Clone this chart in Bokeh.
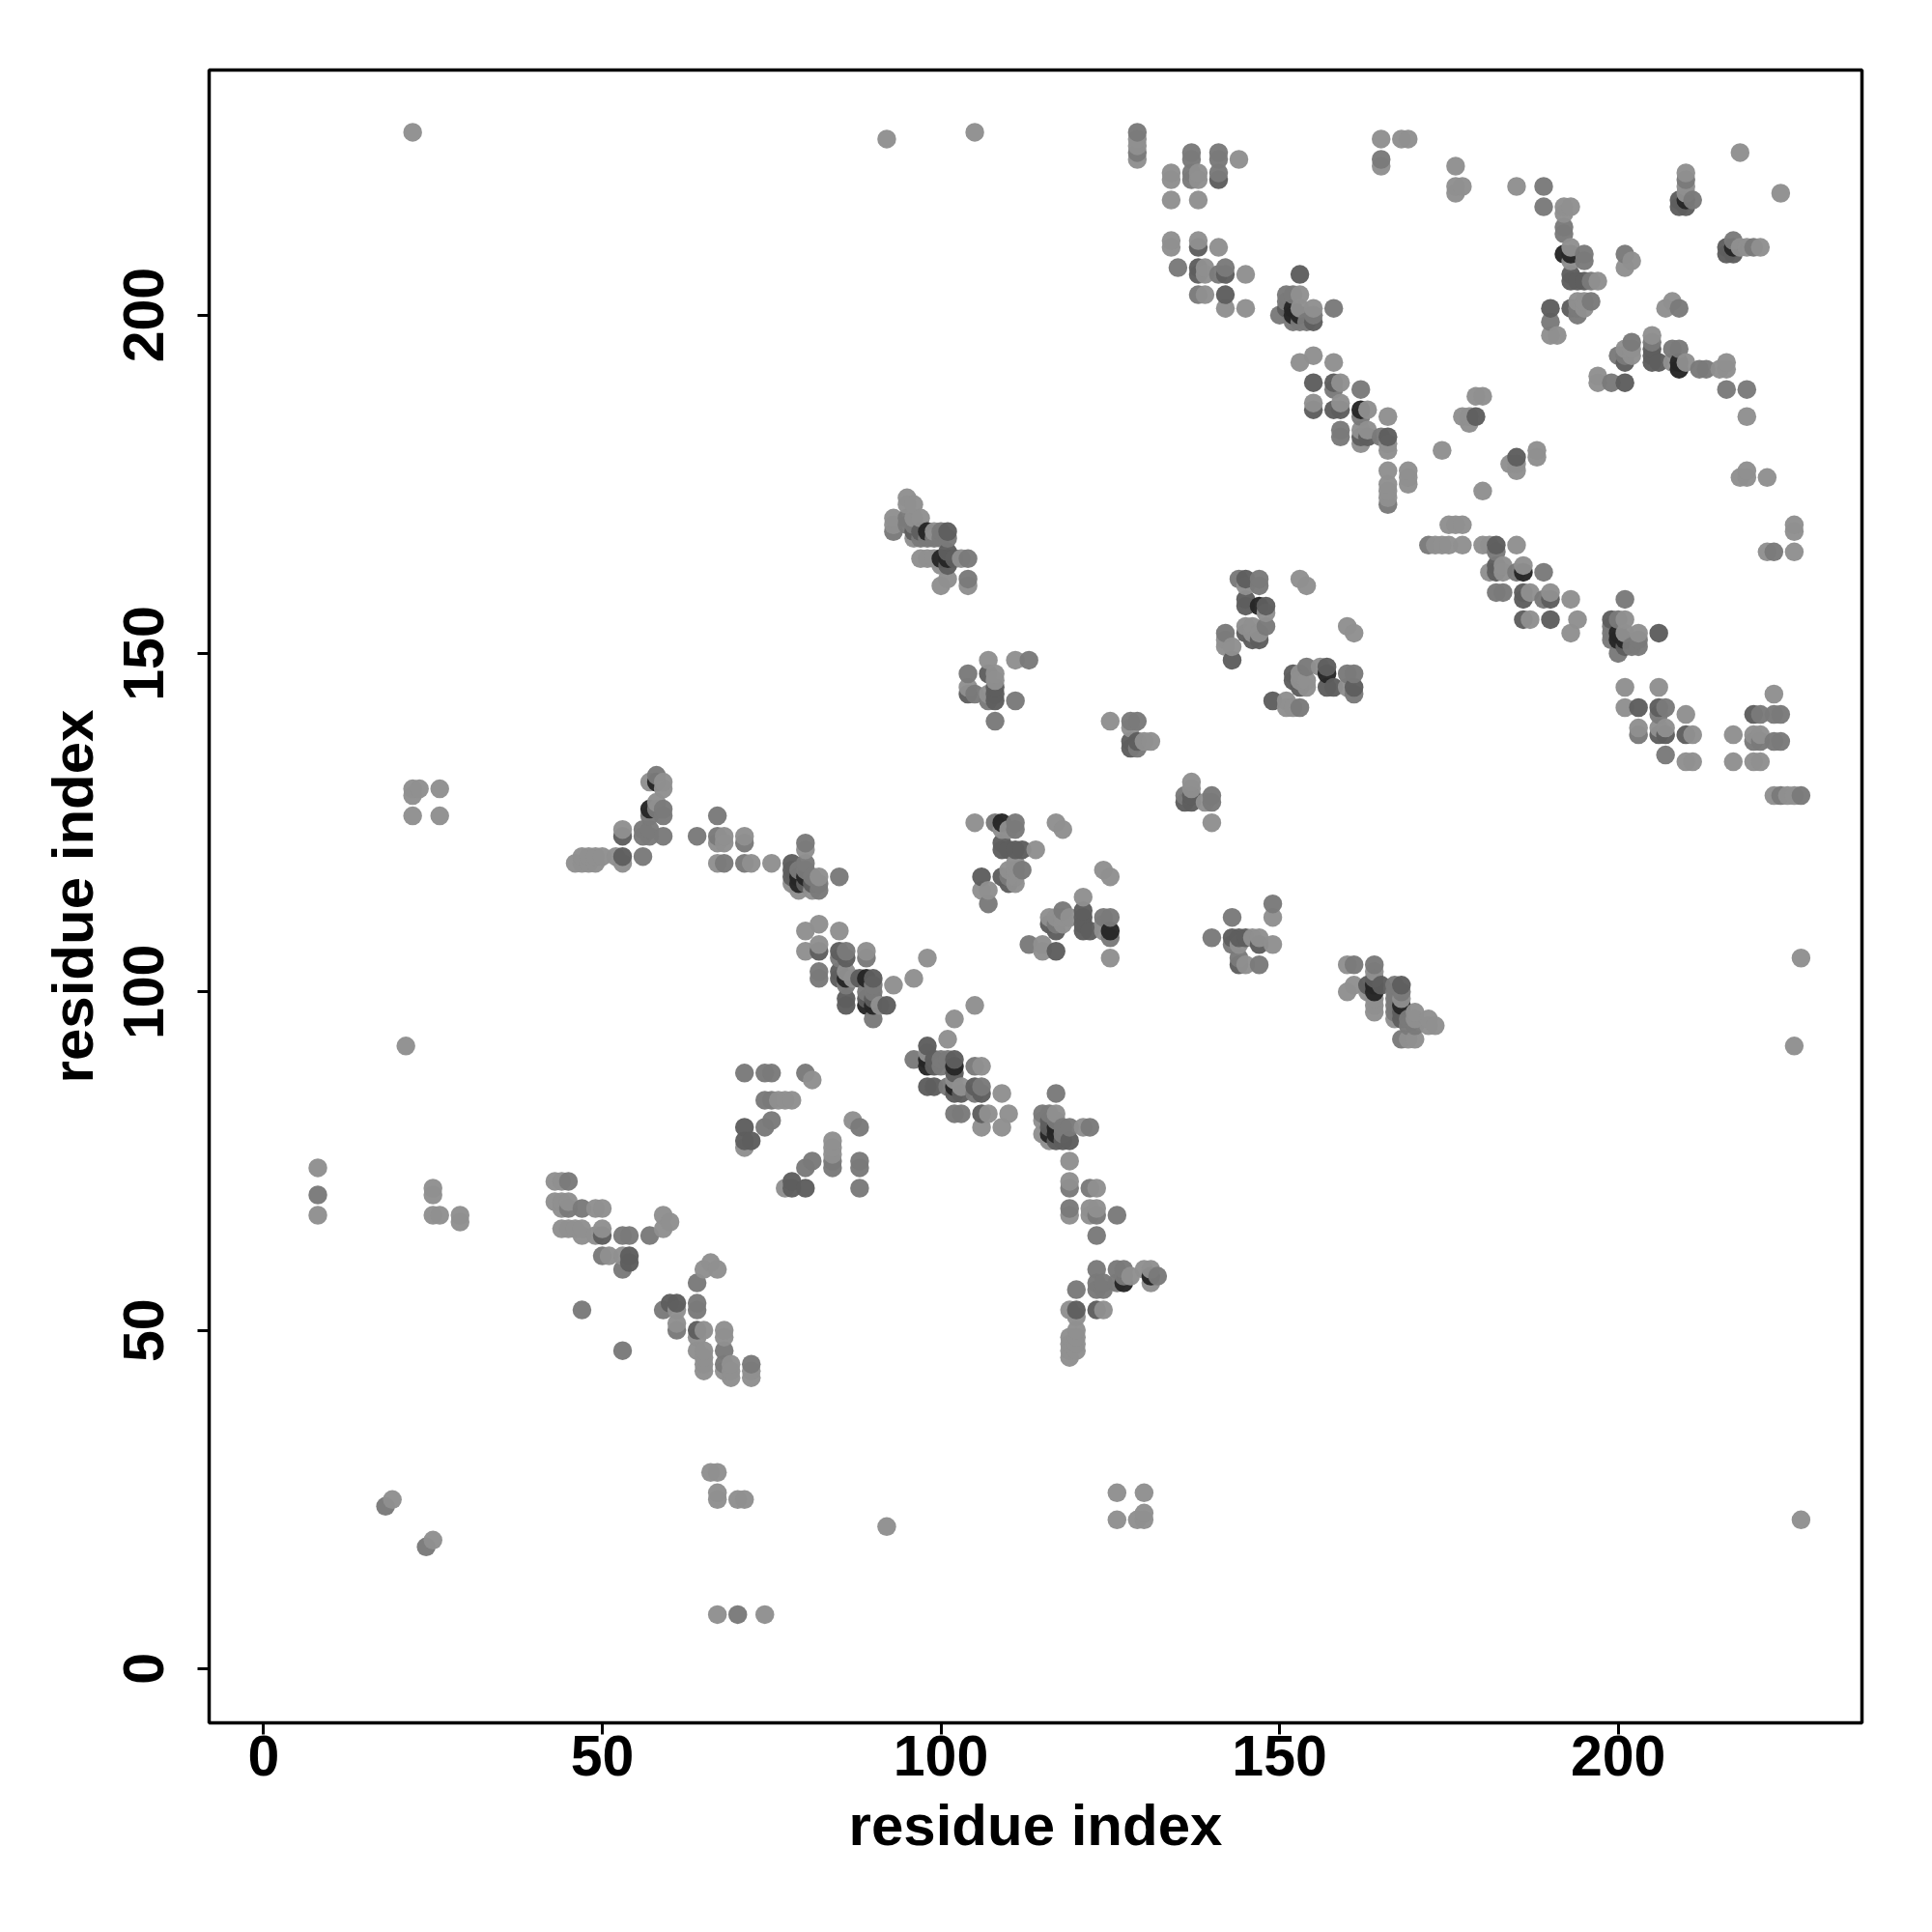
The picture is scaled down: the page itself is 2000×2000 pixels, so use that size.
from bokeh.plotting import figure
from bokeh.models import ColumnDataSource, FixedTicker, Range1d
from bokeh.embed import file_html
from bokeh.resources import INLINE

# residue contact pairs (i < j); the map is symmetric. Grouped by contact strength.
weak = [
    (8,67),(8,74),(19,25),(21,92),(22,126),(22,129),(22,130),(23,130),(26,126),(26,130),(22,227),
    (25,67),(25,70),(25,71),(26,67),(29,66),(29,67),(92,226),(105,227),
    (43,72),(44,72),(43,69),(44,69),(45,69),(44,68),(49,68),(50,68),(44,65),(45,65),(46,65),(47,65),
    (47,64),(49,64),(50,65),(59,67),(60,66),(59,65),(51,61),(53,61),
    (46,119),(47,119),(48,119),(49,119),(47,120),(48,120),(49,120),(50,120),(52,120),(53,119),(53,124),
    (58,128),(59,130),(59,131),(57,131),(68,123),(67,122),(68,122),(71,123),(67,119),(72,119),(75,119),
    (80,121),(78,116),(79,115),(81,115),(82,117),(80,109),(82,110),(85,109),(80,106),(82,107),(89,106),
    (86,103),(87,102),(91,98),(93,101),(96,102),(98,105),(71,88),(75,88),(81,87),(76,84),(77,84),(78,84),(71,77),
    (105,125),(109,124),(114,121),(117,125),(118,124),(111,118),(110,117),(111,117),(106,115),(107,115),
    (121,114),(125,111),(110,124),(125,105),(118,111),(110,118),(111,116),(111,119),
    (125,140),(128,139),(130,137),(131,137),(107,149),(111,149),(108,147),(108,146),(104,145),(107,144),(111,143),
    (143,107),(144,107),(146,108),(147,108),(149,107),(144,105),(145,104),(149,111),
    (145,160),(153,161),(154,160),(148,156),(145,154),(146,154),(146,153),(147,153),(142,152),(143,151),(142,151),
    (104,160),(103,164),(100,160),(101,161),(100,163),(99,164),(98,164),(97,164),(99,168),(96,167),(97,170),(96,170),
    (95,172),(96,172),(95,173),(93,169),(93,170),
    (129,223),(129,225),(129,226),(144,223),(134,221),(134,220),(138,221),(138,220),(134,217),(138,217),
    (134,211),(134,210),(138,211),(141,210),(139,207),(139,206),(145,206),(139,203),(142,201),(145,201),
    (153,203),(153,201),(150,200),(155,201),(153,193),(155,194),(158,193),(159,190),(155,187),(159,187),
    (163,186),(166,185),(162,183),(163,183),(162,181),(165,182),(166,181),(166,180),(166,177),(166,175),(166,174),
    (166,173),(169,177),(169,176),(169,175),(174,180),(165,226),(165,222),(168,226),(169,226),(176,222),(176,219),
    (176,218),(177,219),(185,219),(179,188),(180,188),(177,185),(178,185),(178,184),
    (172,166),(173,166),(174,166),(175,166),(177,166),
    (181,162),(183,163),(186,163),(187,159),(190,155),(187,155),(193,158),(194,155),(193,153),(189,162),
    (181,166),(180,166),(185,166),(183,162),(199,154),(201,145),(206,145),(201,142),(210,141),(210,138),
    (211,138),(210,134),(211,134),(217,138),(217,134),(220,134),(221,134),(223,144),(220,138),(221,138),
    (223,129),(224,129),(225,129),(226,129),
    (190,197),(191,197),(192,215),(192,216),(193,216),(193,208),(193,210),(197,205),(194,202),(195,202),(195,201),
    (201,207),(202,208),(210,218),(210,219),(210,221),(218,224),
]
medium = [
    (8,70),(18,24),(45,68),(47,68),(45,72),(53,64),(54,64),(57,64),(50,61),(53,59),(47,53),
    (56,120),(56,124),(57,124),(56,123),(57,123),(59,123),(57,126),(59,127),(59,126),(58,132),(58,127),
    (64,123),(67,126),(67,123),(71,122),(68,119),(71,119),(80,122),(79,118),(80,119),(80,118),(81,117),(82,116),(82,115),(85,117),
    (86,106),(85,105),(89,105),(82,103),(82,102),(90,101),(90,96),(89,100),(90,100),(86,101),
    (74,88),(80,88),(74,84),(75,84),(75,81),(74,80),(84,74),(84,75),(78,72),(88,75),(88,71),(80,71),
    (108,125),(111,125),(111,124),(112,121),(112,118),(107,113),(124,111),(125,108),(118,112),(117,110),(113,107),
    (129,136),(128,140),(129,140),(113,149),(104,147),(107,147),(105,144),(107,143),(108,140),
    (140,108),(147,104),(149,113),(143,111),(144,161),(147,161),(147,160),(148,154),(142,153),
    (104,161),(104,164),(101,167),(100,168),(100,167),(99,167),(98,167),(97,167),(96,169),(93,168),(95,170),(95,169),
    (129,224),(129,227),(137,224),(137,223),(141,224),(141,223),(137,221),(137,220),(141,221),(135,207),(141,206),(142,207),
    (138,203),(151,203),(152,203),(151,202),(153,199),(155,200),(154,199),(152,199),(158,201),
    (158,189),(162,189),(159,183),(159,182),(166,172),(165,223),
    (182,165),(186,162),(190,158),(200,150),(182,159),(183,159),(186,155),
    (224,137),(220,137),(227,129),(162,185),
    (189,216),(189,219),(192,212),(192,213),(190,199),(194,200),(194,201),(195,208),(195,209),(196,202),(196,205),(201,209),
    (210,220),(211,217),
]
strong = [
    (50,64),(54,61),(54,60),(53,120),(53,123),(78,119),(78,118),(78,117),(80,116),(81,116),
    (82,106),(85,106),(85,103),(85,102),(90,102),(88,102),(86,99),(86,98),(89,99),(90,99),(92,98),(86,105),(71,80),(71,78),(72,78),(78,71),
    (109,122),(109,121),(110,121),(111,121),(109,117),(110,116),(106,117),(121,112),(121,111),(121,110),(121,109),(122,109),
    (116,110),(117,109),(128,136),(128,137),(129,137),(104,144),(108,145),(108,144),(108,143),
    (143,108),(144,108),(147,107),(144,104),(145,161),(145,158),(145,157),(148,157),(145,153),(146,152),(147,152),(143,149),
    (101,165),(101,168),(102,164),(101,163),(97,168),(96,168),(138,210),(138,207),(138,206),(142,206),(142,203),(141,220),
    (153,206),(151,201),(155,199),(155,190),(158,190),(155,186),(158,186),(159,186),(162,182),(163,182),(166,182),(179,185),(182,166),
    (190,201),(193,201),(193,206),(193,205),(194,205),(195,205),(205,195),(205,194),(206,193),(209,217),(209,216),(210,216),
]
strongest = [
    (57,127),(58,131),(79,117),(79,116),(80,117),(86,102),(89,102),(89,98),(90,98),(109,125),(125,109),(147,157),
    (100,164),(101,164),(98,168),(152,201),(152,200),(162,186),
    (153,200),(192,209),(193,209),(210,217),
]

tick_values = [0, 50, 100, 150, 200]
axis_title = "residue index"

levels = [(weak, "#8f8f8f"), (medium, "#7a7a7a"), (strong, "#5e5e5e"), (strongest, "#262626")]
contact_colour = {}
for pairs, colour in levels:
    for a, b in pairs:
        contact_colour[(min(a, b), max(a, b))] = colour

points = []
for (a, b), colour in contact_colour.items():
    points.append((a, b, colour))
    points.append((b, a, colour))
points.sort(key=lambda t: (t[0], t[1]))

source = ColumnDataSource(dict(x=[t[0] for t in points], y=[t[1] for t in points], c=[t[2] for t in points]))

p = figure(width=1984, height=1984, output_backend="svg", toolbar_location=None,
           x_range=Range1d(-8.05, 236.0), y_range=Range1d(-8.0, 236.2),
           min_border_left=216, min_border_right=57, min_border_top=72, min_border_bottom=201,
           background_fill_color="white", border_fill_color="white")
p.scatter("x", "y", source=source, size=19.5, fill_color="c", fill_alpha=0.97, line_color=None)

p.xgrid.visible = False
p.ygrid.visible = False
p.outline_line_color = "black"
p.outline_line_width = 3.5
for ax in (p.xaxis[0], p.yaxis[0]):
    ax.ticker = FixedTicker(ticks=tick_values)
    ax.axis_label = axis_title
    ax.axis_line_color = None
    ax.major_tick_line_color = "black"
    ax.major_tick_line_width = 3
    ax.major_tick_in = 0
    ax.major_tick_out = 12
    ax.minor_tick_line_color = None
    ax.major_label_text_font = "Liberation Sans"
    ax.major_label_text_font_style = "bold"
    ax.major_label_text_font_size = "59px"
    ax.major_label_text_color = "black"
    ax.axis_label_text_font = "Liberation Sans"
    ax.axis_label_text_font_style = "bold"
    ax.axis_label_text_font_size = "60px"
    ax.axis_label_text_color = "black"
p.xaxis[0].major_label_standoff = 1
p.xaxis[0].axis_label_standoff = 15
p.yaxis[0].major_label_standoff = 35
p.yaxis[0].major_label_orientation = "vertical"
p.yaxis[0].axis_label_standoff = 17

open("out.html", "w").write(file_html(p, INLINE))
